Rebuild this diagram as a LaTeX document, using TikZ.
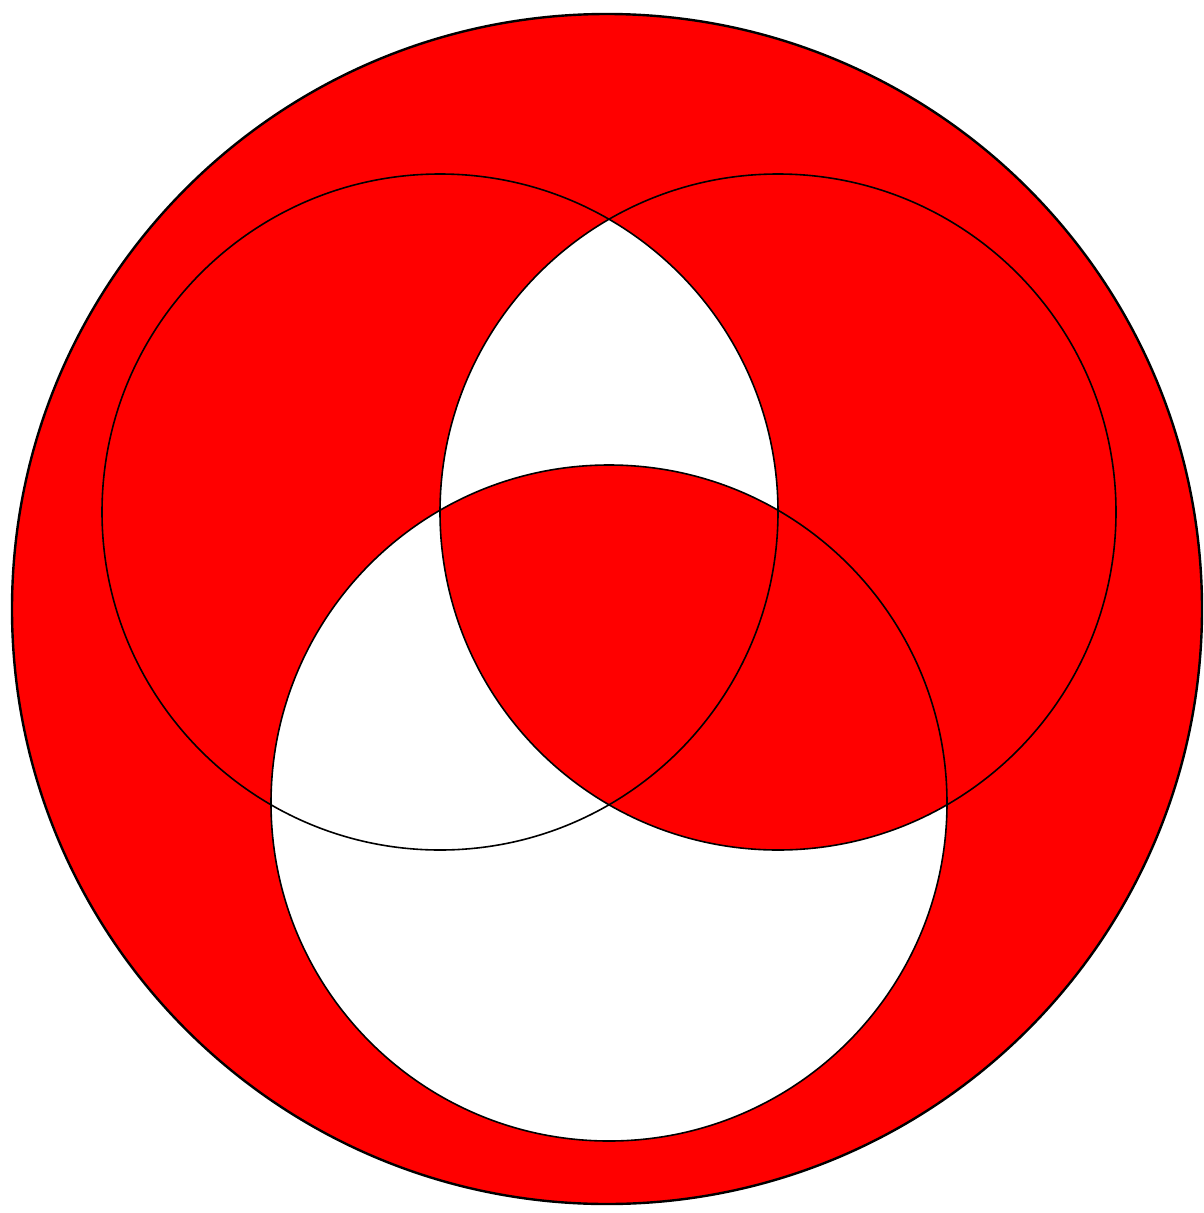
\documentclass[tikz,border=0pt]{standalone}
\definecolor{vred}{RGB}{255,0,0}
\tikzset{
  setline/.style={draw=black,line width=1.6pt},
  uniline/.style={draw=black,line width=2.4pt}
}
\begin{document}
\begin{tikzpicture}[x=1pt,y=-1pt]
\useasboundingbox (0,0) rectangle (1204,1213);
\def\rr{338}
% universe
\fill[vred] (607,609) circle (595);
% C white
\fill[white] (609,803) circle (\rr);
% B cap C red
\begin{scope}
  \clip (609,803) circle (\rr);
  \fill[vred] (778,512) circle (\rr);
\end{scope}
% A cap (B xor C) white
\begin{scope}
  \clip (440,512) circle (\rr);
  \fill[white,even odd rule] (778,512) circle (\rr) (609,803) circle (\rr);
\end{scope}
% outlines
\draw[setline] (440,512) circle (\rr);
\draw[setline] (778,512) circle (\rr);
\draw[setline] (609,803) circle (\rr);
\draw[uniline] (607,609) circle (595);
\end{tikzpicture}
\end{document}
